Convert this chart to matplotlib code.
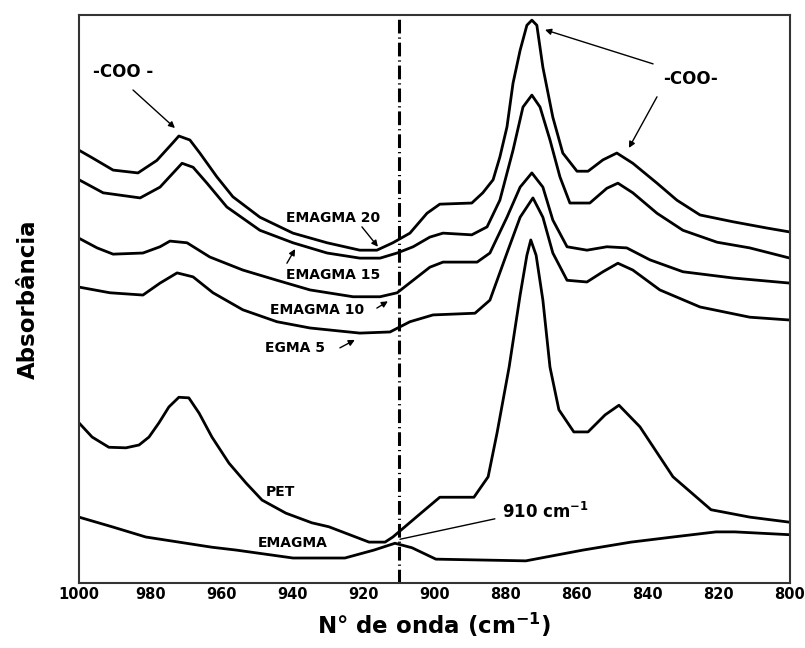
import matplotlib
matplotlib.use("Agg")
import matplotlib.pyplot as plt

plt.rcParams['font.family'] = ['DejaVu Sans']
plt.rcParams['font.weight'] = 'bold'
plt.rcParams['mathtext.fontset'] = 'dejavusans'
plt.rcParams['mathtext.default'] = 'bf'

# wavenumber (cm-1) / absorbance (a.u.)
wn_emagma20 = [1000.0, 996.1, 990.4, 983.4, 978.1, 973.6, 971.9, 968.8, 966.0, 961.2, 956.7, 949.1,
               939.8, 930.2, 921.0, 916.2, 911.7, 906.9, 902.1, 898.5, 889.5, 886.4, 883.5, 881.6,
               879.6, 877.9, 875.9, 874.0, 872.6, 871.2, 869.5, 866.7, 863.9, 859.9, 856.8, 852.6,
               848.7, 844.2, 837.4, 831.8, 825.3, 816.0, 806.5, 800.0]
ab_emagma20 = [0.762, 0.748, 0.727, 0.722, 0.744, 0.775, 0.787, 0.780, 0.757, 0.715, 0.680, 0.644,
               0.616, 0.599, 0.586, 0.586, 0.599, 0.616, 0.651, 0.667, 0.669, 0.687, 0.710, 0.750,
               0.803, 0.880, 0.938, 0.982, 0.991, 0.982, 0.908, 0.820, 0.757, 0.725, 0.725, 0.745,
               0.757, 0.739, 0.704, 0.674, 0.648, 0.636, 0.625, 0.618]

wn_emagma15 = [1000.0, 993.2, 982.8, 977.2, 971.0, 967.9, 964.0, 958.4, 949.1, 939.8, 930.2, 921.0,
               915.3, 910.5, 906.0, 901.3, 897.6, 889.5, 885.2, 881.6, 877.9, 875.1, 872.6, 870.3,
               867.5, 864.7, 861.9, 856.3, 851.5, 848.4, 844.2, 837.4, 830.1, 820.5, 811.3, 800.0]
ab_emagma15 = [0.710, 0.687, 0.678, 0.697, 0.739, 0.732, 0.704, 0.662, 0.621, 0.599, 0.581, 0.572,
               0.572, 0.581, 0.592, 0.609, 0.616, 0.613, 0.627, 0.674, 0.762, 0.838, 0.859, 0.838,
               0.780, 0.715, 0.669, 0.669, 0.695, 0.704, 0.687, 0.651, 0.621, 0.600, 0.590, 0.572]

wn_emagma10 = [1000.0, 994.9, 990.4, 982.0, 977.2, 974.4, 969.6, 963.2, 953.9, 944.3, 935.0, 922.9,
               915.3, 910.5, 906.0, 901.3, 897.6, 888.0, 884.4, 879.6, 875.9, 872.6, 869.5, 866.7,
               862.7, 857.1, 851.5, 845.9, 839.4, 830.1, 816.0, 800.0]
ab_emagma10 = [0.607, 0.590, 0.579, 0.581, 0.592, 0.602, 0.599, 0.574, 0.551, 0.533, 0.516, 0.504,
               0.504, 0.511, 0.533, 0.556, 0.565, 0.565, 0.581, 0.644, 0.697, 0.722, 0.697, 0.639,
               0.592, 0.586, 0.592, 0.590, 0.569, 0.548, 0.537, 0.528]

wn_egma5 = [1000.0, 991.3, 982.0, 977.2, 972.4, 967.9, 962.3, 953.9, 944.3, 935.0, 921.0, 912.5,
            906.9, 900.4, 888.6, 884.4, 879.6, 875.9, 872.3, 869.5, 866.7, 862.7, 857.1, 852.6,
            848.4, 844.2, 836.6, 825.3, 811.3, 800.0]
ab_egma5 = [0.521, 0.511, 0.507, 0.528, 0.546, 0.539, 0.511, 0.481, 0.460, 0.449, 0.440, 0.442,
            0.460, 0.472, 0.475, 0.498, 0.581, 0.644, 0.678, 0.644, 0.581, 0.533, 0.530, 0.548,
            0.563, 0.551, 0.516, 0.486, 0.468, 0.463]

wn_pet = [1000.0, 996.3, 991.6, 986.8, 983.1, 980.3, 977.5, 974.7, 971.9, 969.1, 966.2, 962.6,
          957.8, 953.0, 948.5, 941.8, 934.5, 929.7, 918.4, 913.9, 911.7, 903.8, 898.5, 888.9,
          884.9, 882.4, 879.0, 875.9, 874.0, 872.9, 871.4, 869.5, 867.5, 865.0, 860.8, 856.8,
          852.0, 848.1, 842.2, 832.9, 822.2, 811.3, 800.0]
ab_pet = [0.282, 0.257, 0.239, 0.238, 0.243, 0.257, 0.282, 0.310, 0.327, 0.326, 0.299, 0.257,
          0.211, 0.176, 0.146, 0.123, 0.106, 0.099, 0.072, 0.072, 0.081, 0.123, 0.151, 0.151,
          0.187, 0.264, 0.380, 0.507, 0.577, 0.604, 0.577, 0.498, 0.380, 0.305, 0.266, 0.266,
          0.296, 0.313, 0.275, 0.187, 0.129, 0.116, 0.107]

wn_emagma = [1000.0, 990.7, 981.2, 971.9, 962.6, 955.8, 939.8, 925.2, 917.0, 911.1, 906.3, 899.6,
             874.3, 858.2, 844.7, 832.9, 820.8, 815.5, 800.0]
ab_emagma = [0.116, 0.099, 0.081, 0.072, 0.063, 0.058, 0.044, 0.044, 0.058, 0.070, 0.062, 0.042,
             0.039, 0.058, 0.072, 0.081, 0.090, 0.090, 0.085]

xticks = [1000, 980, 960, 940, 920, 900, 880, 860, 840, 820, 800]
band_910 = 910

fig = plt.figure(figsize=(8.05, 6.48), dpi=100)
ax = fig.add_axes([0.0981, 0.1003, 0.8832, 0.8765])

for wn, ab in [(wn_emagma20, ab_emagma20), (wn_emagma15, ab_emagma15), (wn_emagma10, ab_emagma10),
               (wn_egma5, ab_egma5), (wn_pet, ab_pet), (wn_emagma, ab_emagma)]:
    ax.plot(wn, ab, color='black', lw=2.0, solid_joinstyle='round')

ax.axvline(band_910, color='black', lw=2.2, linestyle=(0, (4.5, 1.3, 0.4, 1.3)))

ax.set_xlim(1000, 800)
ax.set_ylim(0, 1)
ax.set_xticks(xticks)
ax.set_xticklabels([str(t) for t in xticks], fontsize=10.5, fontweight='bold')
ax.set_yticks([])
ax.tick_params(axis='x', length=0, pad=3)
for s in ax.spines.values():
    s.set_linewidth(1.5)
    s.set_color('#333333')

ax.set_xlabel('N° de onda (cm$^{-1}$)', fontsize=16.5, fontweight='bold', labelpad=6)
ax.set_ylabel('Absorbância', fontsize=16.5, fontweight='bold', labelpad=28)

arrow = dict(arrowstyle='-|>', lw=1.0, color='black', mutation_scale=9, shrinkA=0, shrinkB=0)
big = dict(fontsize=12, fontweight='bold', ha='center', va='center')
small = dict(fontsize=10, fontweight='bold', ha='center', va='center')

ax.text(987.6, 0.900, '-COO -', **big)
ax.annotate('', xy=(973.0, 0.801), xytext=(984.8, 0.868), arrowprops=arrow)
ax.text(828.1, 0.887, '-COO-', **big)
ax.annotate('', xy=(868.9, 0.974), xytext=(838.5, 0.914), arrowprops=arrow)
ax.annotate('', xy=(845.3, 0.766), xytext=(837.4, 0.856), arrowprops=arrow)

ax.text(928.6, 0.643, 'EMAGMA 20', **small)
ax.annotate('', xy=(915.9, 0.592), xytext=(920.4, 0.627), arrowprops=arrow)
ax.text(928.6, 0.542, 'EMAGMA 15', **small)
ax.annotate('', xy=(939.2, 0.588), xytext=(941.5, 0.563), arrowprops=arrow)
ax.text(933.1, 0.481, 'EMAGMA 10', **small)
ax.annotate('', xy=(913.1, 0.496), xytext=(916.2, 0.484), arrowprops=arrow)
ax.text(939.2, 0.414, 'EGMA 5', **small)
ax.annotate('', xy=(922.4, 0.428), xytext=(926.6, 0.414), arrowprops=arrow)

ax.text(943.2, 0.160, 'PET', **small)
ax.text(939.8, 0.070, 'EMAGMA', **small)
ax.text(868.9, 0.125, '910 cm$^{-1}$', fontsize=12, fontweight='bold', ha='center', va='center')
ax.annotate('', xy=(909.7, 0.077), xytext=(883.0, 0.113),
            arrowprops=dict(arrowstyle='-', lw=1.0, color='black', shrinkA=0, shrinkB=0))

fig.savefig('out.png', dpi=100)
